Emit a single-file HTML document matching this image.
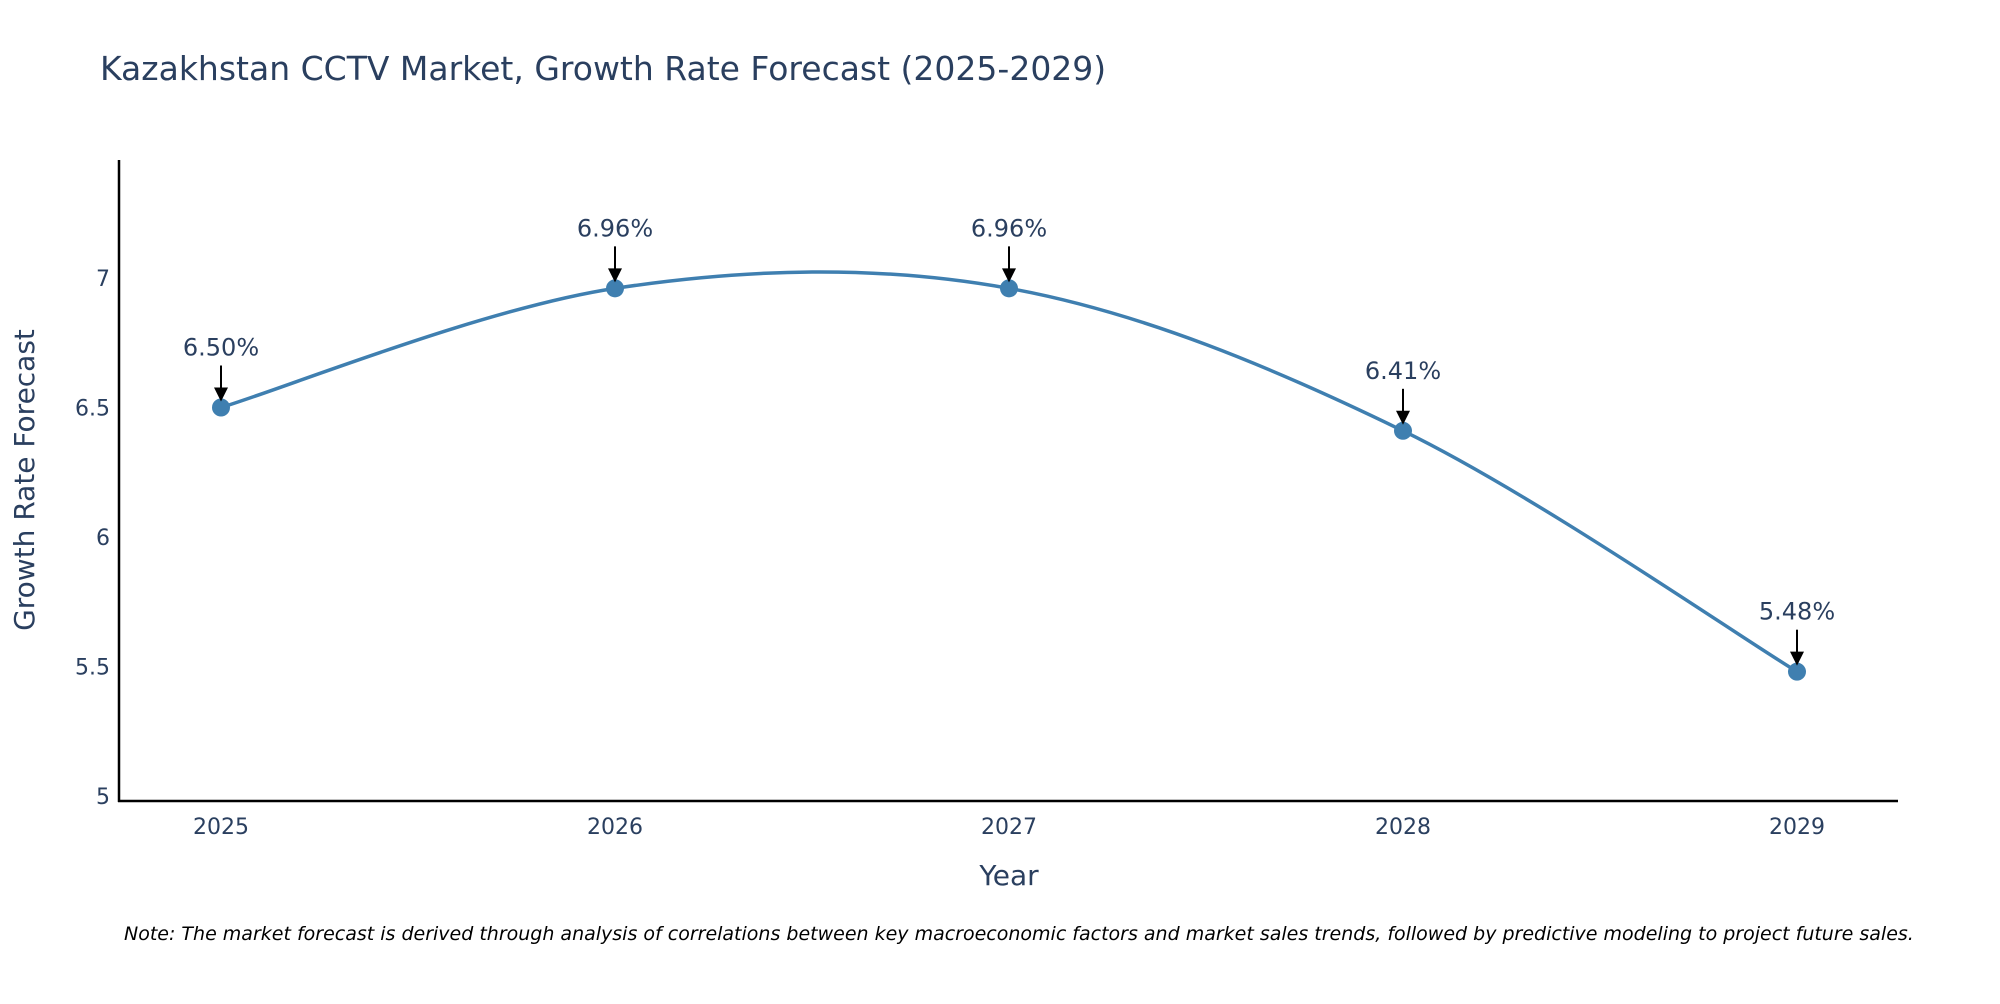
<!DOCTYPE html>
<html><head><meta charset="utf-8"><style>
body{margin:0;background:#fff;font-family:"DejaVu Sans","Liberation Sans",sans-serif}
svg text{font-family:"DejaVu Sans","Liberation Sans",sans-serif}
</style></head><body>
<svg id="chart" width="2000" height="1000" xmlns="http://www.w3.org/2000/svg">
<text x="100" y="80" font-size="33" fill="#2a3f5f">Kazakhstan CCTV Market, Growth Rate Forecast (2025-2029)</text>
<g id="yticks"></g>
<g id="xticks"></g>
<line x1="119" y1="160" x2="119" y2="802" stroke="#000" stroke-width="2.5"/>
<line x1="118" y1="801" x2="1898" y2="801" stroke="#000" stroke-width="2.5"/>
<text x="34" y="480" font-size="28" fill="#2a3f5f" text-anchor="middle" transform="rotate(-90 34 480)">Growth Rate Forecast</text>
<text x="1009" y="885" font-size="28" fill="#2a3f5f" text-anchor="middle">Year</text>
<path id="line" fill="none" stroke="#3f7fb0" stroke-width="3.5"/>
<g id="points"></g>
<g id="annots"></g>
<text x="124" y="940" font-size="19" font-style="italic" fill="#000">Note: The market forecast is derived through analysis of correlations between key macroeconomic factors and market sales trends, followed by predictive modeling to project future sales.</text>
</svg>
<script>
const years = [2025, 2026, 2027, 2028, 2029];
const values = [6.50, 6.96, 6.96, 6.41, 5.48];
const valueLabels = ["6.50%", "6.96%", "6.96%", "6.41%", "5.48%"];
const yTickValues = [5, 5.5, 6, 6.5, 7];
const yTickLabels = ["5", "5.5", "6", "6.5", "7"];

const NS = "http://www.w3.org/2000/svg";
function xScale(v){ return 221 + (v - 2025) * 394; }
function yScale(v){ return 796 - (v - 5) * 259; }
function mk(tag, attrs, parent){ const e=document.createElementNS(NS,tag); for(const k in attrs) e.setAttribute(k,attrs[k]); parent.appendChild(e); return e; }

const yt=document.getElementById('yticks');
yTickValues.forEach((v,i)=>{
  const t=mk('text',{x:110,y:yScale(v)+8,'font-size':22,fill:'#2a3f5f','text-anchor':'end'},yt);
  
  
  t.textContent=yTickLabels[i];
});
const xt=document.getElementById('xticks');
years.forEach(y=>{
  const t=mk('text',{x:xScale(y),y:834,'font-size':22,fill:'#2a3f5f','text-anchor':'middle'},xt);
  
  
  t.textContent=String(y);
});

const P=years.map((y,i)=>[xScale(y),yScale(values[i])]);
let d=`M${P[0][0]},${P[0][1]}`;
for(let i=0;i<P.length-1;i++){
  const p0=P[Math.max(i-1,0)],p1=P[i],p2=P[i+1],p3=P[Math.min(i+2,P.length-1)];
  const c1=[p1[0]+(p2[0]-p0[0])/6,p1[1]+(p2[1]-p0[1])/6];
  const c2=[p2[0]-(p3[0]-p1[0])/6,p2[1]-(p3[1]-p1[1])/6];
  d+=` C${c1[0]},${c1[1]} ${c2[0]},${c2[1]} ${p2[0]},${p2[1]}`;
}
document.getElementById('line').setAttribute('d',d);

const pts=document.getElementById('points'), an=document.getElementById('annots');
P.forEach((p,i)=>{
  const c=mk('circle',{cx:p[0],cy:p[1],r:9,fill:'#3f7fb0'},pts);
  
  
  const l=mk('line',{x1:p[0],y1:p[1]-42,x2:p[0],y2:p[1]-18,stroke:'#000','stroke-width':2},an);
  
  
  const h=mk('polygon',{points:`${p[0]-7},${p[1]-20} ${p[0]+7},${p[1]-20} ${p[0]},${p[1]-6}`,fill:'#000'},an);
  
  
  const t=mk('text',{x:p[0],y:p[1]-52,'font-size':24,fill:'#2a3f5f','text-anchor':'middle'},an);
  
  
  t.textContent=valueLabels[i];
});
</script>
</body></html>
